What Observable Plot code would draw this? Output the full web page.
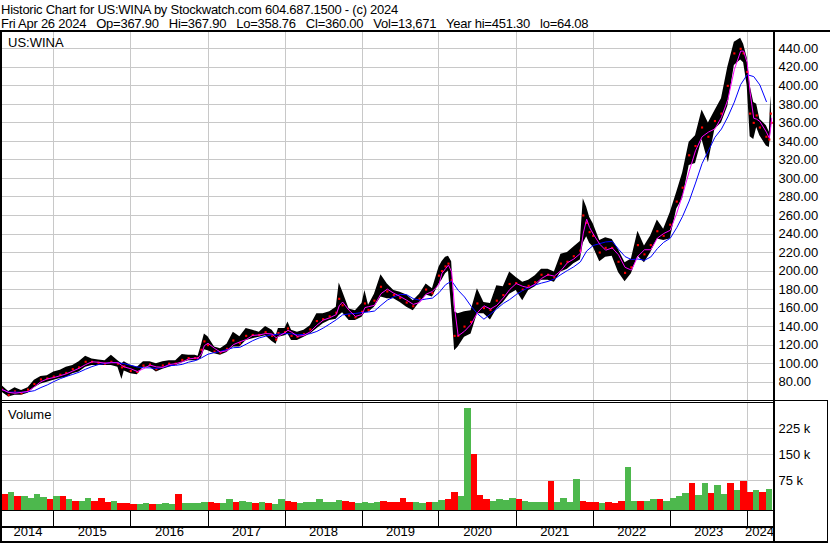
<!DOCTYPE html>
<html><head><meta charset="utf-8">
<script src="https://cdn.jsdelivr.net/npm/d3@7"></script>
<script src="https://cdn.jsdelivr.net/npm/@observablehq/plot@0.6"></script>
<style>
html,body{margin:0;padding:0;background:#fff;}
#c{position:relative;width:830px;height:543px;overflow:hidden;font-family:Arial,"Liberation Sans",sans-serif;color:#000;background:#fff}
#c svg{position:absolute;left:0;top:0;overflow:visible}
.t{position:absolute;white-space:pre;font-size:13px;line-height:13px;color:#000}
.ln{position:absolute;background:#000}
</style></head><body><div id="c"></div>
<script>
// ---- header text ----
const header1 = "Historic Chart for US:WINA by Stockwatch.com 604.687.1500 - (c) 2024";
const header2 = "Fri Apr 26 2024   Op=367.90   Hi=367.90   Lo=358.76   Cl=360.00   Vol=13,671   Year hi=451.30   lo=64.08";
const symbolLabel = "US:WINA";
const volumeLabel = "Volume";

// ---- price data (visible band top / bottom and close) ----
const pDates = ["2014-05-01","2014-06-01","2014-07-01","2014-08-01","2014-09-01","2014-10-01","2014-11-01","2014-12-01",
"2015-01-01","2015-02-01","2015-03-01","2015-04-01","2015-05-01","2015-06-01","2015-07-01","2015-08-01","2015-09-01","2015-10-01","2015-11-01","2015-11-20","2015-12-01",
"2016-01-01","2016-02-01","2016-03-01","2016-04-01","2016-05-01","2016-06-01","2016-07-01","2016-08-01","2016-09-01","2016-10-01","2016-11-01","2016-11-15","2016-12-01","2016-12-15",
"2017-01-01","2017-02-01","2017-03-01","2017-04-01","2017-05-01","2017-06-01","2017-07-01","2017-08-01","2017-09-01","2017-10-01","2017-11-01","2017-11-20","2017-12-01",
"2018-01-01","2018-01-15","2018-02-01","2018-03-01","2018-04-01","2018-05-01","2018-06-01","2018-07-01","2018-08-01","2018-09-01","2018-09-15","2018-10-01","2018-11-01","2018-12-01",
"2019-01-01","2019-01-15","2019-02-01","2019-03-01","2019-04-01","2019-05-01","2019-06-01","2019-07-01","2019-08-01","2019-09-01","2019-10-01","2019-11-01","2019-12-01",
"2020-01-01","2020-01-15","2020-02-01","2020-02-15","2020-03-01","2020-03-15","2020-04-01","2020-05-01","2020-06-01","2020-07-01","2020-08-01","2020-09-01","2020-10-01","2020-11-01","2020-12-01",
"2021-01-01","2021-02-01","2021-03-01","2021-04-01","2021-05-01","2021-06-01","2021-07-01","2021-08-01","2021-09-01","2021-10-01","2021-11-01","2021-11-15","2021-12-01","2021-12-15",
"2022-01-01","2022-02-01","2022-03-01","2022-04-01","2022-05-01","2022-06-01","2022-07-01","2022-08-01","2022-09-01","2022-10-01","2022-11-01","2022-12-01",
"2023-01-01","2023-02-01","2023-03-01","2023-04-01","2023-05-01","2023-06-01","2023-07-01","2023-08-01","2023-09-01","2023-10-01","2023-11-01","2023-12-01","2023-12-15",
"2024-01-01","2024-01-15","2024-02-01","2024-02-15","2024-03-01","2024-04-01","2024-04-15","2024-04-22","2024-04-26"];
const pHi = [76,70,74,71,74,82,86,87,
91,93,96,98,102,108,105,104,103,109,103,100,102,
98,96,102,102,100,102,103,103,110,109,109,108,120,132,
129,118,116,121,134,129,138,136,134,140,136,130,138,
138,145,136,134,136,141,154,154,156,161,187,178,159,157,
165,179,163,175,196,186,179,177,174,168,175,186,181,
204,210,215,216,210,156,154,156,157,181,166,165,184,183,199,
193,188,190,195,202,202,199,218,220,226,232,278,269,258,
251,233,236,234,223,209,213,243,227,238,255,245,
263,285,306,339,346,374,360,373,386,420,447,451.3,445,
430,400,382,380,364,357,350,389,367.9];
const pLo = [69,64.1,66,66,68,74,78,80,
82,84,85,89,91,96,98,98,98,98,96,83,92,
89,88,96,96,91,94,96,98,101,103,103,103,106,115,
114,110.6,109,112,118,118,125,127,128.6,130,124,121,128.6,
130,132,125,125,128.6,132,137.6,143,146.6,148,152,155,146.6,146.6,
150,155,155.6,161,172,170,170,166,161,157,166,174,172,
186,190,197,200,160,114,118,128.6,132,154,154,147,159,166,175,
179,168,179,183,190,190,188,199,202,208,212,230,237,230,
226,210,215,216,198.5,188.4,197,216,209,220,234.5,233,
234.5,267,278,314,316,342,317,353,360,378,422,428,425,
400,345,342,355,346,335,333.5,350,358.76];
const pClose = [72,66,70,68,72,78,83,84,
86,88,90,94,96,102,102,101,100,102,100,96,97,
92,91,98,99,94,98,100,100,104,106,106,106,115,124,
120,113,112,116,125,122,130,131,131,134,130,126,133,
134,138,130,129,132,137,146,148,151,155,170,163,152,150,
156,165,158,168,183,178,174,171,166,162,170,180,176,
195,200,205,208,190,130,130,140,145,165,160,158,168,174,186,
187,180,184,188,196,196,193,208,210,216,222,260,252,242,
238,220,225,225,210,198,204,228,218,228,243,238,
250,275,290,325,335,355,345,362,370,400,435,440,435,
415,370,360,368,355,345,342,370,360];

// ---- volume (monthly) ----
const volMonths = ["2014-05","2014-06","2014-07","2014-08","2014-09","2014-10","2014-11","2014-12",
"2015-01","2015-02","2015-03","2015-04","2015-05","2015-06","2015-07","2015-08","2015-09","2015-10","2015-11","2015-12",
"2016-01","2016-02","2016-03","2016-04","2016-05","2016-06","2016-07","2016-08","2016-09","2016-10","2016-11","2016-12",
"2017-01","2017-02","2017-03","2017-04","2017-05","2017-06","2017-07","2017-08","2017-09","2017-10","2017-11","2017-12",
"2018-01","2018-02","2018-03","2018-04","2018-05","2018-06","2018-07","2018-08","2018-09","2018-10","2018-11","2018-12",
"2019-01","2019-02","2019-03","2019-04","2019-05","2019-06","2019-07","2019-08","2019-09","2019-10","2019-11","2019-12",
"2020-01","2020-02","2020-03","2020-04","2020-05","2020-06","2020-07","2020-08","2020-09","2020-10","2020-11","2020-12",
"2021-01","2021-02","2021-03","2021-04","2021-05","2021-06","2021-07","2021-08","2021-09","2021-10","2021-11","2021-12",
"2022-01","2022-02","2022-03","2022-04","2022-05","2022-06","2022-07","2022-08","2022-09","2022-10","2022-11","2022-12",
"2023-01","2023-02","2023-03","2023-04","2023-05","2023-06","2023-07","2023-08","2023-09","2023-10","2023-11","2023-12",
"2024-01","2024-02","2024-03","2024-04"];
const volK = [35,40,30,30,25,35,28,22,
30,30,20,16,14,25,14,25,12,14,10,10,
8,8,9,8,8,9,8,35,9,10,9,12,
11,9,9,20,11,16,12,9,11,10,8,20,
14,11,9,11,12,22,12,11,18,14,12,10,
12,10,11,14,11,13,25,11,13,10,11,13,
18,20,40,30,285,150,32,20,16,20,18,25,
20,15,12,12,11,72,11,25,12,78,16,12,
11,10,11,10,15,112,16,14,16,22,20,16,
25,30,38,68,32,68,38,60,35,66,48,74,
42,48,40,50];
const volDir = ("dudu"+"uuud"+"ududuudddudd"+"duuduuuduuuu"+"dduuduududuu"+"dduuuuuuuddu"+
  "uuuddddduudu"+"udduuddduuuu"+"duuuuduuuudd"+"duddduuduudu"+"uuuduuduudud"+"dudu").split("");

// ---- scales / ticks ----
const priceTicks = [80,100,120,140,160,180,200,220,240,260,280,300,320,340,360,380,400,420,440];
const volTicks = [75000,150000,225000];
const yearLines = ["2015","2016","2017","2018","2019","2020","2021","2022","2023","2024"];
const yearLabels = ["2014","2015","2016","2017","2018","2019","2020","2021","2022","2023","2024"];

const W = 830, H = 543;
const FONT = "Arial, 'Liberation Sans', sans-serif";
const xOpt = {type:"utc", domain:[new Date("2014-01-01"), new Date("2024-01-01")], range:[-23.7, 746.7], axis:null};
const PRICE_DOMAIN = [60.2, 457.6];
const VOL_DOMAIN = [-10700, 300900];

const price = pDates.map((d,i)=>({date:new Date(d), hi:pHi[i], lo:pLo[i], close:pClose[i]}));
const monthly = price.filter(d=>d.date.getUTCDate()===1);
const yearDates = yearLines.map(y=>new Date(y+"-01-01"));
const first = price[0].date, last = price[price.length-1].date;
const yearMid = yearLabels.map(y=>{
  const s = Math.max(+new Date(y+"-01-01"), +first);
  const e = Math.min(+new Date((+y+1)+"-01-01"), +last);
  return {label:y, date:new Date((s+e)/2)};
});
const vol = volMonths.map((m,i)=>{
  const s = new Date(m+"-01");
  return {x1:s, x2:d3.utcMonth.offset(s,1), v:volK[i]*1000, fill: volDir[i]==="u" ? "#4db84d" : "#ff0000"};
});

const common = {width:W, height:H, marginLeft:2, marginRight:57,
  style:{background:"transparent", fontFamily:FONT, fontSize:"13px", color:"#000", overflow:"visible"}};
const crisp = {shapeRendering:"crispEdges"};

const pricePlot = Plot.plot({...common, marginTop:32, marginBottom:H-400,
  x:xOpt, y:{domain:PRICE_DOMAIN, axis:null},
  marks:[
    Plot.ruleY(priceTicks, {stroke:"#c8c8c8", strokeWidth:1, ...crisp}),
    Plot.ruleX(yearDates, {stroke:"#c8c8c8", strokeWidth:1, ...crisp}),
    Plot.areaY(price, {x:"date", y1:"lo", y2:"hi", fill:"#000", curve:"linear"}),
    Plot.dot(price, {x:"date", y:"close", fill:"#ff0000", r:1.2, symbol:"square"}),
    Plot.lineY(monthly, Plot.windowY({k:5, anchor:"end"}, {x:"date", y:"close", stroke:"#0000ff", strokeWidth:1})),
    Plot.lineY(price, Plot.windowY({k:2, anchor:"end"}, {x:"date", y:"close", stroke:"#ff00ff", strokeWidth:1})),
    Plot.axisY(priceTicks, {anchor:"right", label:null, tickSize:0, tickPadding:5, tickFormat:d=>d.toFixed(2), fontSize:13, fill:"#000"})
  ]});

const volPlot = Plot.plot({...common, marginTop:402, marginBottom:H-510,
  x:xOpt, y:{domain:VOL_DOMAIN, axis:null}, color:{type:"identity"},
  marks:[
    Plot.ruleY(volTicks, {stroke:"#c8c8c8", strokeWidth:1, ...crisp}),
    Plot.ruleX(yearDates, {stroke:"#c8c8c8", strokeWidth:1, ...crisp}),
    Plot.rect(vol, {x1:"x1", x2:"x2", y1:VOL_DOMAIN[0], y2:"v", fill:"fill", ...crisp}),
    Plot.axisY(volTicks, {anchor:"right", label:null, tickSize:0, tickPadding:5, tickFormat:d=>(d/1000)+" k", fontSize:13, fill:"#000"})
  ]});

const yearPlot = Plot.plot({...common, marginTop:510, marginBottom:H-527,
  x:xOpt, y:{domain:[0,1], axis:null},
  marks:[
    Plot.ruleX(yearDates, {y1:0, y2:1, stroke:"#000", strokeWidth:1, ...crisp}),
    Plot.text(yearMid, {x:"date", text:"label", frameAnchor:"bottom", dy:8, fontSize:13, fill:"#000"})
  ]});

const c = document.getElementById("c");
c.append(pricePlot, volPlot, yearPlot);

function txt(s, left, top){ const d=document.createElement("div"); d.className="t"; d.textContent=s; d.style.left=left+"px"; d.style.top=top+"px"; c.append(d); return d; }
function line(l,t,w,h){ const d=document.createElement("div"); d.className="ln"; Object.assign(d.style,{left:l+"px",top:t+"px",width:w+"px",height:h+"px"}); c.append(d); }
txt(header1, 1, 2.5).style.letterSpacing="-0.25px";
txt(header2, 1, 17).style.letterSpacing="-0.25px";
txt(symbolLabel, 8, 36);
txt(volumeLabel, 8, 407.5);
// frame lines
line(0,30,830,2);     // under header
line(0,30,2,513);     // left border
line(773,30,2,513);   // right axis line
line(0,400,828,1);    // price bottom
line(0,402,775,1);
line(0,510,775,1);    // volume bottom
line(0,526,775,2);    // above year labels
line(0,541,828,2);    // bottom
line(827,400,1,143);  // right outer
</script></body></html>
